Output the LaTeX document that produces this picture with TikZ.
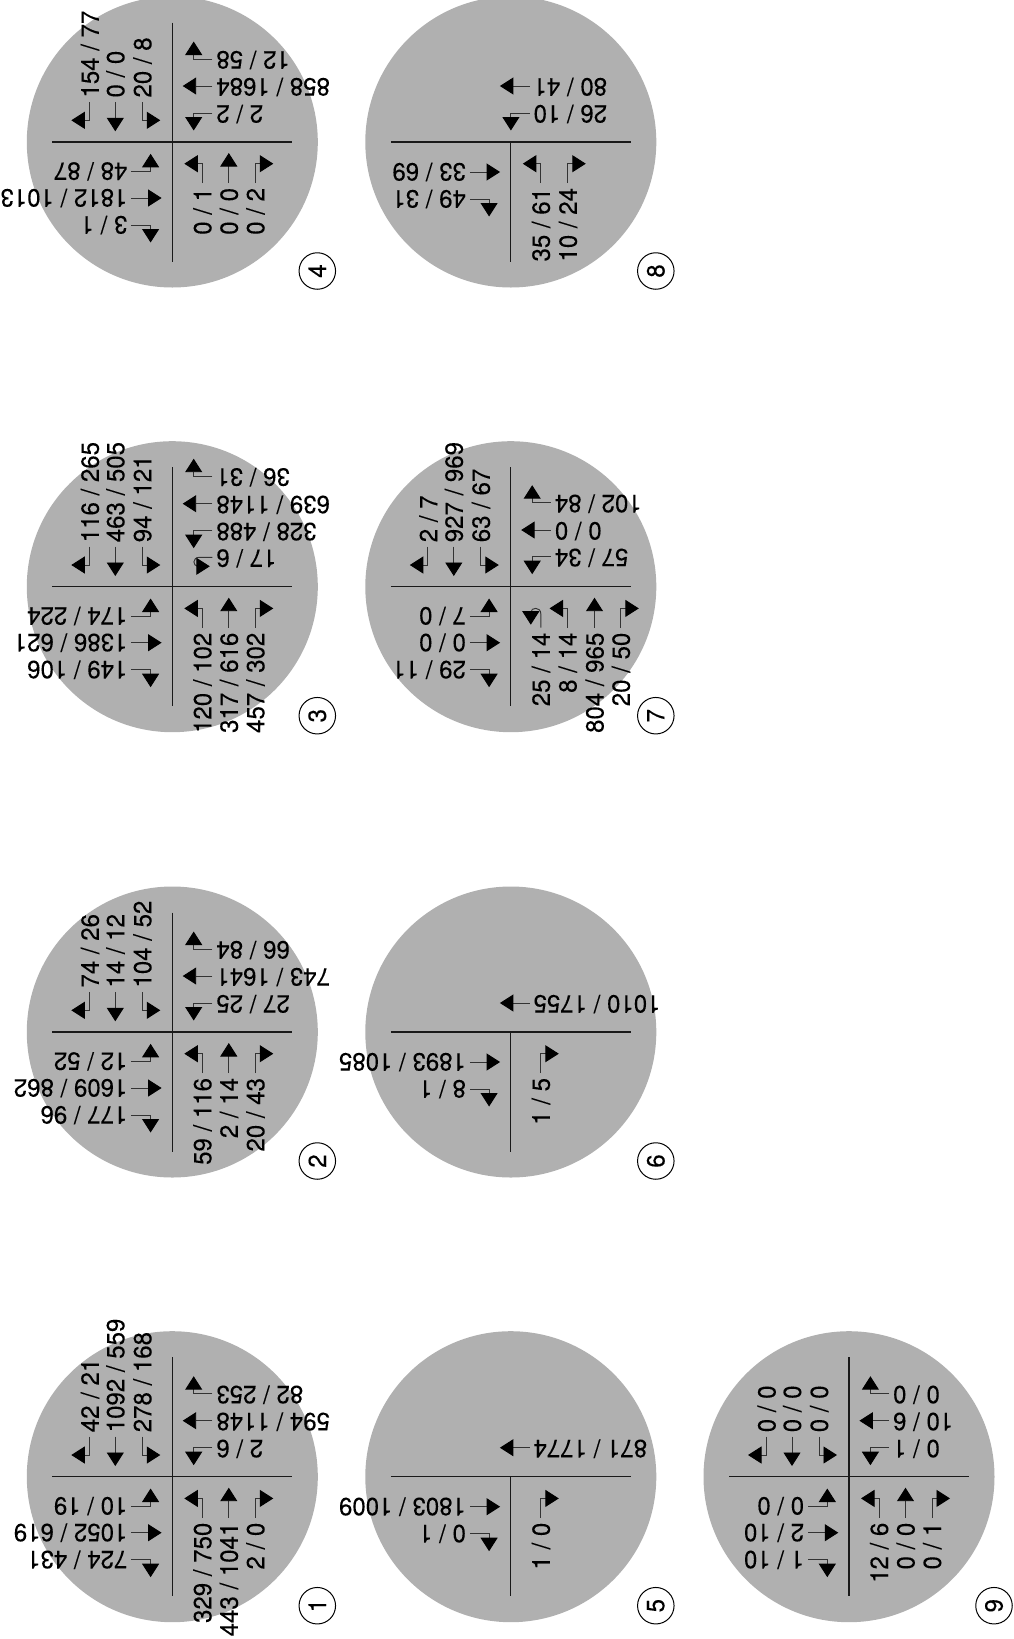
\documentclass[tikz,border=0pt]{standalone}
\usepackage{fontspec}
\setmainfont[FakeStretch=0.965,FakeBold=0.1]{TeX Gyre Heros}
\usetikzlibrary{arrows.meta}
\newcounter{lab}
\definecolor{discgray}{RGB}{176,176,176}
\tikzset{
  disc/.style={fill=discgray,draw=none},
  crossline/.style={draw=black!90,line width=1.25pt},
  conn/.style={draw=black!80,line width=.95pt,-{Triangle[length=13.5pt,width=17pt,color=black,fill=black]}},
  labbase/.style={inner sep=0pt,outer sep=0pt,text height=17.5pt,text depth=0pt,text=black,font=\fontsize{24.9}{26}\selectfont},
  toplab/.style={labbase,rotate=90,anchor=west},
  botlab/.style={labbase,rotate=90,anchor=east},
  rgtlab/.style={labbase,rotate=180,anchor=east},
  lftlab/.style={labbase,rotate=180,anchor=west},
  tagring/.style={circle,draw=black,line width=1pt,minimum size=36.5pt,inner sep=0pt,text=black,font=\fontsize{24.9}{26}\selectfont,rotate=90}
}
\newcommand\lab[3]{\stepcounter{lab}\node[#1] (lab\arabic{lab}) at (#2) {#3};}
% top quadrant: column x, label
\newcommand\TL[2]{\draw[conn] (#1,-40) |- ({#1-18},-21.7); \lab{toplab}{{#1+.8},-44.5}{#2}}
\newcommand\TS[2]{\draw[conn] (#1,-40) -- (#1,-10.7); \lab{toplab}{{#1+.3},-44.5}{#2}}
\newcommand\TR[2]{\draw[conn] (#1,-40) |- ({#1+18},-21.7); \lab{toplab}{{#1+.3},-44.5}{#2}}
% bottom quadrant
\newcommand\BL[2]{\draw[conn] (#1,41) |- ({#1-18},21.7); \lab{botlab}{{#1+.3},46}{#2}}
\newcommand\BS[2]{\draw[conn] (#1,41) -- (#1,11); \lab{botlab}{{#1+.3},46}{#2}}
\newcommand\BR[2]{\draw[conn] (#1,41) |- ({#1+18},21.7); \lab{botlab}{{#1+.3},46}{#2}}
\newcommand\BT[2]{\draw[conn] (#1,41) -- (#1,27) .. controls (#1,20) and ({#1-10},20) .. ({#1-10},26) -- ({#1-10},38); \lab{botlab}{{#1+.3},46}{#2}}
% right quadrant: line start x, row y, label
\newcommand\RU[3]{\draw[conn] (#1,#2) -| ({#1-18.6},{#2-17.5}); \lab{rgtlab}{{#1+4},{#2+1}}{#3}}
\newcommand\RS[3]{\draw[conn] (#1,#2) -- ({#1-29.6},#2); \lab{rgtlab}{{#1+4},{#2+1}}{#3}}
\newcommand\RD[3]{\draw[conn] (#1,#2) -| ({#1-18.6},{#2+17.5}); \lab{rgtlab}{{#1+4},{#2+1}}{#3}}
\newcommand\RT[3]{\draw[conn] (#1,#2) -- (27,#2) .. controls (20,#2) and (20,{#2+9}) .. (26,{#2+9}) -- (37.5,{#2+9}); \lab{rgtlab}{{#1+4},{#2+1}}{#3}}
% left quadrant
\newcommand\LU[2]{\draw[conn] (-41,#1) -| (-21.7,{#1-17.5}); \lab{lftlab}{-45,#1}{#2}}
\newcommand\LS[2]{\draw[conn] (-41,#1) -- (-10.7,#1); \lab{lftlab}{-45,#1}{#2}}
\newcommand\LD[2]{\draw[conn] (-41,#1) -| (-21.7,{#1+17.5}); \lab{lftlab}{-45,#1}{#2}}
% base of one intersection: tag, top end of the vertical bar
\newcommand\Base[2]{%
  \fill[disc] (0,0) circle[radius=145.5pt];
  \draw[crossline] (-120,0) -- (120,0);
  \draw[crossline] (0,#2) -- (0,119.5);
  \node[tagring] (tag#1) at (145,129) {#1};}
\begin{document}
\begin{tikzpicture}[x=1pt,y=-1pt]
\useasboundingbox (0,0) rectangle (1013,1639);
% 1
\begin{scope}[shift={(172.3,1476.7)}]
\Base{1}{-119.5}
\TL{-83}{42 / 21}\TS{-57}{1092 / 559}\TR{-30}{278 / 168}
\RU{40}{-83}{82 / 253}\RS{40}{-56}{594 / 1148}\RD{40}{-29}{2 / 6}
\BL{30}{329 / 750}\BS{56.5}{443 / 1041}\BR{83}{2 / 0}
\LU{29.3}{10 / 19}\LS{56}{1052 / 619}\LD{83}{724 / 431}
\end{scope}
% 2
\begin{scope}[shift={(172.3,1032)}]
\Base{2}{-119.5}
\TL{-83}{74 / 26}\TS{-57}{14 / 12}\TR{-30}{104 / 52}
\RU{40}{-83}{66 / 84}\RS{40}{-56}{743 / 1641}\RD{40}{-29}{27 / 25}
\BL{30}{59 / 116}\BS{56.5}{2 / 14}\BR{83}{20 / 43}
\LU{29.3}{12 / 52}\LS{56}{1609 / 862}\LD{83}{177 / 96}
\end{scope}
% 3
\begin{scope}[shift={(172.3,586.7)}]
\Base{3}{-119.5}
\TL{-83}{116 / 265}\TS{-57}{463 / 505}\TR{-30}{94 / 121}
\RU{40}{-110.5}{36 / 31}\RS{40}{-83}{639 / 1148}\RD{40}{-56}{328 / 488}\RT{40}{-29.4}{17 / 6}
\BL{30}{120 / 102}\BS{56.5}{317 / 616}\BR{83}{457 / 302}
\LU{29.3}{174 / 224}\LS{56}{1386 / 621}\LD{83}{149 / 106}
\end{scope}
% 4
\begin{scope}[shift={(172.3,142)}]
\Base{4}{-119.5}
\TL{-83}{154 / 77}\TS{-57}{0 / 0}\TR{-30}{20 / 8}
\RU{40}{-83}{12 / 58}\RS{40}{-56}{858 / 1684}\RD{40}{-29}{2 / 2}
\BL{30}{0 / 1}\BS{56.5}{0 / 0}\BR{83}{0 / 2}
\LU{29.3}{48 / 87}\LS{56}{1812 / 1013}\LD{83}{3 / 1}
\end{scope}
% 5
\begin{scope}[shift={(510.8,1476.7)}]
\Base{5}{0}
\RS{18.7}{-29}{871 / 1774}
\BR{30}{1 / 0}
\LS{30}{1803 / 1009}\LD{57}{0 / 1}
\end{scope}
% 6
\begin{scope}[shift={(510.8,1032)}]
\Base{6}{0}
\RS{18.7}{-29}{1010 / 1755}
\BR{30}{1 / 5}
\LS{30}{1893 / 1085}\LD{57}{8 / 1}
\end{scope}
% 7
\begin{scope}[shift={(510.8,586.7)}]
\Base{7}{-119.5}
\TL{-83}{2 / 7}\TS{-57}{927 / 969}\TR{-30}{63 / 67}
\RU{40}{-84}{102 / 84}\RS{40}{-56.7}{0 / 0}\RD{40}{-30}{57 / 34}
\BT{30}{25 / 14}\BL{56.7}{8 / 14}\BS{83.7}{804 / 965}\BR{110}{20 / 50}
\LU{29.3}{7 / 0}\LS{56}{0 / 0}\LD{83}{29 / 11}
\end{scope}
% 8
\begin{scope}[shift={(510.8,142)}]
\Base{8}{0}
\RS{18.7}{-56}{80 / 41}\RD{18.7}{-29}{26 / 10}
\BL{30}{35 / 61}\BR{57}{10 / 24}
\LS{30}{33 / 69}\LD{57}{49 / 31}
\end{scope}
% 9
\begin{scope}[shift={(849,1476.7)}]
\Base{9}{-119.5}
\TL{-83}{0 / 0}\TS{-57}{0 / 0}\TR{-30}{0 / 0}
\RU{40}{-83}{0 / 0}\RS{40}{-56}{10 / 6}\RD{40}{-29}{0 / 1}
\BL{30}{12 / 6}\BS{56.5}{0 / 0}\BR{83}{0 / 1}
\LU{29.3}{0 / 0}\LS{56}{2 / 10}\LD{83}{1 / 10}
\end{scope}
\end{tikzpicture}
\end{document}
